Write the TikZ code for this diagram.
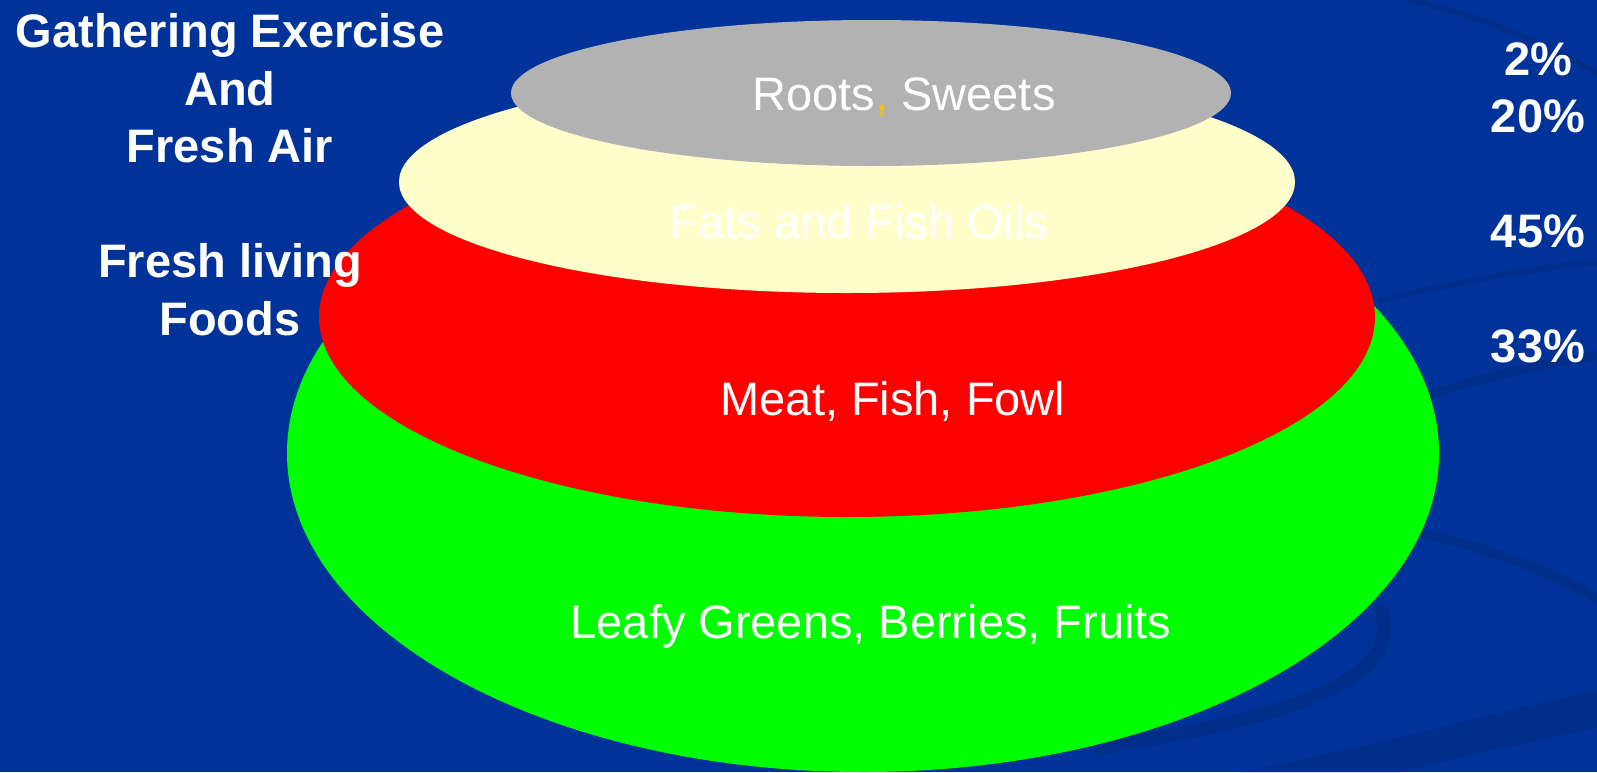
\documentclass[tikz,border=0pt]{standalone}
\usepackage{fontspec}
\setmainfont{Liberation Sans}
\definecolor{slideblue}{RGB}{0,51,153}
\definecolor{swooshblue}{RGB}{0,46,138}
\definecolor{tiergreen}{RGB}{0,255,0}
\definecolor{tierred}{RGB}{255,0,0}
\definecolor{tiercream}{RGB}{255,255,204}
\definecolor{tiergrey}{RGB}{178,178,178}
\definecolor{commagold}{RGB}{255,192,0}
\tikzset{
  swoosh/.style={
    draw=swooshblue,
    line cap=round
  },
  tierlabel/.style={
    white,
    anchor=base,
    inner sep=0pt,
    font=\fontsize{47}{56}\selectfont
  },
  sidelabel/.style={
    tierlabel,
    font=\fontsize{47}{56}\selectfont\bfseries
  }
}

\begin{document}
\begin{tikzpicture}[x=1pt,y=-1pt]
\useasboundingbox (0,0) rectangle (1597,772);
\fill[slideblue] (0,0) rectangle (1597,772);
\draw[swoosh, line width=14pt] (1100,748) .. controls (1300,715) and (1400,680) .. (1382,612);
\draw[swoosh, line width=10pt] (1415,532) .. controls (1490,548) and (1560,575) .. (1600,600);
\fill[swooshblue] (1240,772) .. controls (1380,745) and (1480,715) .. (1597,690)
    -- (1597,728) .. controls (1500,748) and (1440,762) .. (1400,772) -- cycle;
\draw[swoosh, line width=9pt] (1430,395) .. controls (1490,375) and (1550,362) .. (1600,355);
\draw[swoosh, line width=6pt] (1380,300) .. controls (1460,282) and (1530,268) .. (1600,262);
\draw[swoosh, line width=6pt] (1410,0) .. controls (1480,15) and (1550,45) .. (1600,75);
\fill[tiergreen] (863,453) ellipse [x radius=576, y radius=319];
\fill[tierred] (847,317) ellipse [x radius=528, y radius=200];
\fill[tiercream] (847,182) ellipse [x radius=448, y radius=111];
\fill[tiergrey] (871,93) ellipse [x radius=360, y radius=73];
\node[tierlabel] (roots) at (904,110) {Roots{\color{commagold},} Sweets};
\node[tierlabel] (fats) at (859,238) {Fats and Fish Oils};
\node[tierlabel] (meat) at (893,415) {Meat, Fish, Fowl};
\node[tierlabel] (leafy) at (871,638) {Leafy Greens, Berries, Fruits};
\foreach \txt/\ypos [count=\i] in {Gathering Exercise/47, And/105, Fresh Air/162,
    Fresh living/277, Foods/335} {
    \node[sidelabel] (gather\i) at (230,\ypos) {\txt};
}
\foreach \pct/\ypos in {2/75, 20/132, 45/247, 33/362} {
    \node[sidelabel] (pct\pct) at (1538,\ypos) {\pct\%};
}
\end{tikzpicture}
\end{document}
